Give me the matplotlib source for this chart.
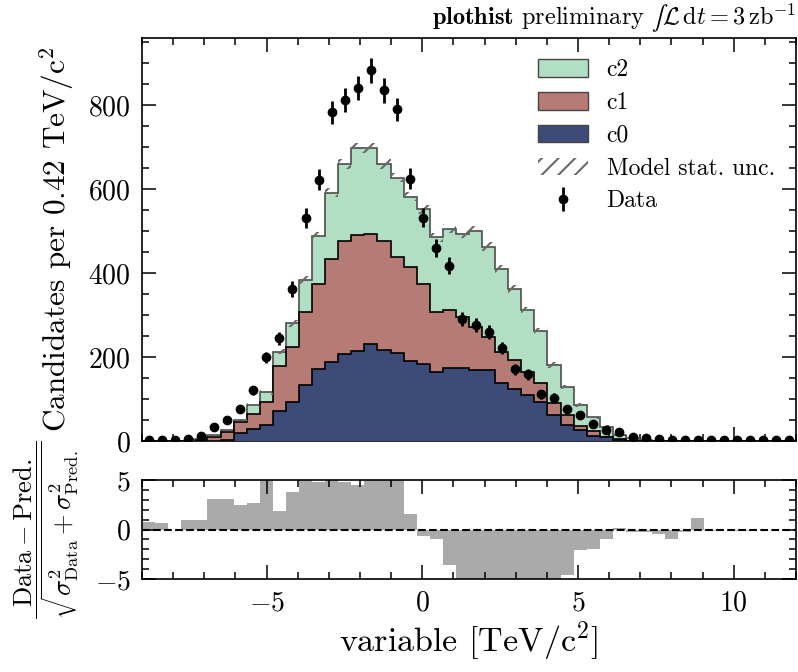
import numpy as np
import matplotlib
matplotlib.use("Agg")
import matplotlib.pyplot as plt
from matplotlib.ticker import MultipleLocator
from matplotlib.patches import Patch

plt.rcParams["font.family"] = "serif"
plt.rcParams["font.serif"] = ["cmr10"]
plt.rcParams["mathtext.fontset"] = "cm"
plt.rcParams["axes.formatter.use_mathtext"] = True
plt.rcParams["hatch.linewidth"] = 1.5

# 50 bins from -9 to 12 (width 0.42)
edges = np.linspace(-9, 12, 51)
centers = 0.5 * (edges[1:] + edges[:-1])

c0 = np.array([0, 0, 0, 0, 0, 1, 3, 18, 29, 37,
               72, 94, 133, 172, 189, 207, 215, 231, 217, 209,
               190, 183, 164, 173, 173, 169, 170, 138, 124, 110,
               92, 61, 38, 26, 13, 9, 2, 0, 0, 0,
               0, 0, 0, 0, 0, 0, 0, 0, 0, 0])
c1 = np.array([0, 0, 0, 1, 2, 9, 19, 28, 36, 55,
               107, 131, 175, 203, 245, 269, 275, 261, 260, 230,
               225, 191, 144, 139, 123, 103, 78, 75, 69, 55,
               45, 30, 24, 10, 10, 1, 2, 1, 0, 0,
               0, 0, 0, 0, 0, 0, 0, 0, 0, 0])
c2 = np.array([0, 0, 0, 0, 2, 4, 4, 5, 21, 24,
               34, 55, 75, 113, 157, 183, 207, 206, 182, 188,
               167, 178, 177, 194, 198, 229, 215, 197, 169, 147,
               126, 90, 66, 50, 33, 24, 10, 5, 3, 1,
               0, 0, 0, 0, 0, 0, 0, 0, 0, 0])
model_unc = np.array([0, 0, 0, 1, 2, 3, 3, 4, 5, 6,
                      7, 8, 9, 10, 11, 12, 12, 12, 12, 11,
                      11, 11, 10, 10, 10, 10, 10, 9, 9, 8,
                      7, 6, 5, 4, 4, 3, 2, 1, 1, 1,
                      0, 0, 0, 0, 0, 0, 0, 0, 0, 0])
data = np.array([2, 2, 3, 4, 11, 34, 49, 75, 121, 199,
                 245, 362, 531, 622, 783, 813, 841, 883, 835, 790,
                 625, 532, 460, 417, 291, 276, 259, 221, 171, 159,
                 111, 103, 75, 63, 40, 27, 21, 10, 8, 4,
                 3, 3, 2, 2, 2, 2, 2, 2, 2, 2])
pulls = np.array([0.71, 0.68, 0.0, 0.95, 1.0, 3.04, 3.07, 2.47, 2.7, 5.7,
                  1.86, 3.8, 6.1, 4.76, 6.6, 4.83, 4.5, 6.2, 5.9, 5.6,
                  1.55, -0.68, -0.98, -3.6, -10.8, -12.0, -10.5, -9.4, -10.4, -8.3,
                  -8.4, -5.7, -4.56, -2.1, -1.93, -0.98, 0.2, -0.24, -0.24, -0.47,
                  -1.0, -0.27, 1.2, -0.17, 0.0, -0.17, -0.17, 0.0, 0.0, 0.0])

labels = ["c0", "c1", "c2"]
colors = ["#3c4b78", "#b77b75", "#b2dec3"]

fig = plt.figure(figsize=(7.98, 6.72), dpi=100)
ax = fig.add_axes([0.178, 0.3438, 0.8195, 0.5997])
ax2 = fig.add_axes([0.178, 0.1384, 0.8195, 0.1473])

# stacked model, drawn from the top of the stack down
s1 = c0 + c1
total = s1 + c2
ax.stairs(total, edges, fill=True, color=colors[2], zorder=1)
ax.stairs(total, edges, color="#4d4d4d", lw=1.2, zorder=2)
ax.stairs(s1, edges, fill=True, color=colors[1], zorder=3)
ax.stairs(s1, edges, color="black", lw=1.2, zorder=4)
ax.stairs(c0, edges, fill=True, color=colors[0], zorder=5)
ax.stairs(c0, edges, color="black", lw=1.2, zorder=6)

# model stat. uncertainty
ax.bar(centers, 2 * model_unc, width=np.diff(edges), bottom=total - model_unc,
       fill=False, hatch="//", edgecolor="dimgrey", linewidth=0, zorder=7)

ax.errorbar(centers, data, yerr=np.sqrt(data), fmt="o", color="black",
            markersize=6, elinewidth=2, capsize=0, zorder=8)

ax.set_xlim(-9, 12)
ax.set_ylim(0, 960)
ax.set_ylabel("Candidates per 0.42 TeV/c$^2$", fontsize=22.5)
ax.yaxis.set_label_coords(-0.1, 0.5)
ax.tick_params(labelbottom=False)

handles = [Patch(facecolor=colors[2], edgecolor="#444444"),
           Patch(facecolor=colors[1], edgecolor="#444444"),
           Patch(facecolor=colors[0], edgecolor="#444444"),
           Patch(fill=False, hatch="//", edgecolor="dimgrey", linewidth=0),
           ax.errorbar([], [], yerr=[], fmt="o", color="black", markersize=6,
                       elinewidth=2)]
leg_labels = ["c2", "c1", "c0", "Model stat. unc.", "Data"]
ax.legend(handles, leg_labels, loc="upper right", frameon=False, fontsize=17,
          handlelength=2.1, handleheight=0.75, labelspacing=0.45)

ax.text(1.0, 1.035, r"$\mathbf{plothist}$ preliminary $∫\mathcal{L}\,\mathrm{d}t=3\,\mathrm{zb}^{-1}$",
        transform=ax.transAxes, ha="right", va="baseline", fontsize=17.5)

# pull panel
ax2.stairs(pulls, edges, fill=True, color="#aaaaaa", zorder=1)
ax2.axhline(0, color="black", ls="--", lw=1.5, zorder=2)
ax2.set_xlim(-9, 12)
ax2.set_ylim(-5, 5)
ax2.set_xlabel("variable [TeV/c$^2$]", fontsize=24.5, labelpad=2)
ax2.set_ylabel(r"$\dfrac{\mathrm{Data} - \mathrm{Pred.}}{\sqrt{\sigma^2_{\mathrm{Data}} + \sigma^2_{\mathrm{Pred.}}}}$",
               fontsize=19)
ax2.yaxis.set_label_coords(-0.094, 0.5)

for a in (ax, ax2):
    a.xaxis.set_major_locator(MultipleLocator(5))
    a.xaxis.set_minor_locator(MultipleLocator(1))
    a.tick_params(which="both", direction="in", top=True, right=True, width=1.1,
                  labelsize=20, pad=8)
    a.tick_params(which="major", length=10)
    a.tick_params(which="minor", length=5)
    for sp in a.spines.values():
        sp.set_linewidth(1.2)

ax.yaxis.set_major_locator(MultipleLocator(200))
ax.yaxis.set_minor_locator(MultipleLocator(50))
ax2.yaxis.set_major_locator(MultipleLocator(5))
ax2.yaxis.set_minor_locator(MultipleLocator(1))

fig.savefig("out.png", dpi=100)
